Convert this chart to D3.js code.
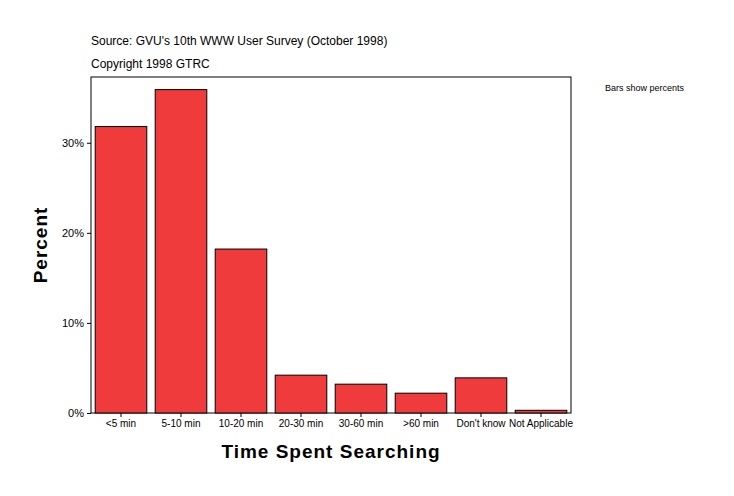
<!DOCTYPE html>
<html><head><meta charset="utf-8">
<script src="https://cdn.jsdelivr.net/npm/d3@7"></script>
<style>body{margin:0;background:#fff}text{font-family:"Liberation Sans",Arial,sans-serif}</style>
</head><body>
<script>
var categories = ["<5 min", "5-10 min", "10-20 min", "20-30 min", "30-60 min", ">60 min", "Don't know", "Not Applicable"];
var percents = [31.8, 35.9, 18.2, 4.2, 3.2, 2.2, 3.9, 0.3];
var yTicks = [0, 10, 20, 30];

var svg = d3.select("body").append("svg").attr("width", 734).attr("height", 496);
var pLeft = 91, pRight = 571, pTop = 77, pBottom = 413;

var x = d3.scaleBand().domain(categories).range([pLeft, pRight]).paddingInner(0.14).paddingOuter(0.07);
var y = d3.scaleLinear().domain([0, 37.3]).range([pBottom, pTop]);

svg.append("rect").attr("x", pLeft).attr("y", pTop).attr("width", pRight - pLeft).attr("height", pBottom - pTop)
  .attr("fill", "none").attr("stroke", "#000");

svg.selectAll(".bar").data(percents).enter().append("rect")
  .attr("x", function(d, i){ return x(categories[i]); })
  .attr("y", function(d){ return y(d); })
  .attr("width", x.bandwidth())
  .attr("height", function(d){ return pBottom - y(d); })
  .attr("fill", "#ef3b3b").attr("stroke", "#000");

var ya = svg.append("g").attr("transform", "translate(" + pLeft + ",0)")
  .call(d3.axisLeft(y).tickValues(yTicks).tickSize(4).tickFormat(function(d){ return d + "%"; }));
ya.select(".domain").remove();
ya.selectAll("text").attr("font-size", 11).attr("fill", "#000");

var xa = svg.append("g").attr("transform", "translate(0," + pBottom + ")")
  .call(d3.axisBottom(x).tickSize(4));
xa.select(".domain").remove();
xa.selectAll("text").attr("font-size", 10).attr("fill", "#000");

svg.append("text").attr("x", 91).attr("y", 45).attr("font-size", 12).text("Source: GVU's 10th WWW User Survey (October 1998)");
svg.append("text").attr("x", 91).attr("y", 68).attr("font-size", 12).text("Copyright 1998 GTRC");
svg.append("text").attr("x", 605).attr("y", 91).attr("font-size", 9).text("Bars show percents");
svg.append("text").attr("x", 331).attr("y", 458).attr("text-anchor", "middle").attr("font-size", 19)
  .attr("font-weight", "bold").attr("letter-spacing", 1).text("Time Spent Searching");
svg.append("text").attr("transform", "translate(47,245) rotate(-90)").attr("text-anchor", "middle")
  .attr("font-size", 19).attr("font-weight", "bold").attr("letter-spacing", 1).text("Percent");
</script>
</body></html>
